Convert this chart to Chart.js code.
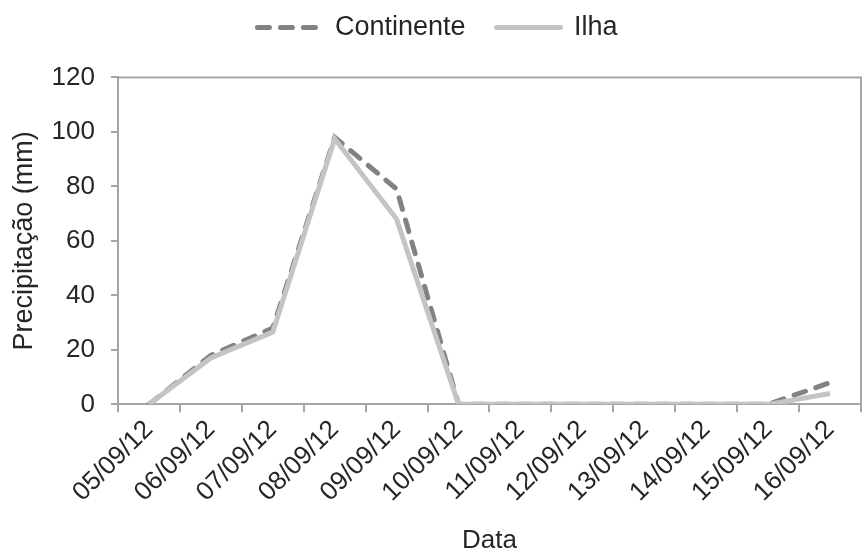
<!DOCTYPE html>
<html>
<head>
<meta charset="utf-8">
<script src="https://cdn.jsdelivr.net/npm/chart.js@4"></script>
<style>
  html, body { margin: 0; padding: 0; background: #fff; }
  #wrap { width: 864px; height: 554px; }
</style>
</head>
<body>
<div id="wrap"><canvas id="rainChart"></canvas></div>
<script>
// Dates (categories) and daily rainfall for each series
const dates = ['05/09/12', '06/09/12', '07/09/12', '08/09/12', '09/09/12', '10/09/12',
               '11/09/12', '12/09/12', '13/09/12', '14/09/12', '15/09/12', '16/09/12'];
const continente = [0, 18, 28, 98, 79, 0, 0, 0, 0, 0, 0, 8];
const ilha = [0, 17, 26.5, 97.5, 68, 0, 0, 0, 0, 0, 0, 4];
const yTicks = [0, 20, 40, 60, 80, 100, 120];

const AXIS_GRAY = '#a6a6a6';
const TEXT = '#262626';
Chart.defaults.font.family = '"Liberation Sans", Arial, sans-serif';

// Draw the top and right edges of the plot box
const boxPlugin = {
    id: 'plotBox',
    afterDraw(chart) {
        const a = chart.chartArea;
        const ctx = chart.ctx;
        ctx.save();
        ctx.strokeStyle = AXIS_GRAY;
        ctx.lineWidth = 2;
        ctx.beginPath();
        ctx.moveTo(a.left, a.top);
        ctx.lineTo(a.right, a.top);
        ctx.lineTo(a.right, a.bottom);
        ctx.stroke();
        ctx.restore();
    }
};

new Chart('rainChart', {
    type: 'line',
    data: {
        labels: dates,
        datasets: [{
            label: 'Continente',
            data: continente,
            borderColor: '#828282',
            backgroundColor: '#828282',
            borderWidth: 5,
            borderDash: [12, 11],
            borderCapStyle: 'round',
            pointRadius: 0,
            tension: 0,
            order: 1
        }, {
            label: 'Ilha',
            data: ilha,
            borderColor: '#c4c4c4',
            backgroundColor: '#c4c4c4',
            borderWidth: 5,
            pointRadius: 0,
            tension: 0,
            order: 0
        }]
    },
    options: {
        responsive: true,
        maintainAspectRatio: false,
        animation: false,
        layout: {padding: {left: 14, right: 3, top: -17, bottom: 0}},
        plugins: {
            legend: {
                position: 'top',
                labels: {
                    usePointStyle: true,
                    pointStyle: 'line',
                    pointStyleWidth: 64,
                    boxWidth: 64,
                    padding: 31,
                    color: TEXT,
                    font: {size: 27},
                    sort: (a, b) => a.datasetIndex - b.datasetIndex,
                    // point-style legend items lose the dash, so put it back
                    generateLabels: chart => {
                        const items = Chart.defaults.plugins.legend.labels.generateLabels(chart);
                        items.forEach(item => {
                            const ds = chart.data.datasets[item.datasetIndex];
                            item.lineDash = ds.borderDash || [];
                            item.lineWidth = 5;
                            item.lineCap = 'round';
                            item.strokeStyle = ds.borderColor;
                        });
                        return items;
                    }
                }
            },
            // empty subtitle used as a spacer between legend and plot
            subtitle: {display: true, text: '', weight: 500, padding: 0, font: {size: 22}},
            tooltip: {enabled: false}
        },
        scales: {
            x: {
                offset: true,
                grid: {offset: true, drawOnChartArea: false, color: AXIS_GRAY, lineWidth: 2, tickLength: 8},
                border: {color: AXIS_GRAY, width: 2},
                ticks: {autoSkip: false, maxRotation: 45, minRotation: 45, color: TEXT, font: {size: 26}, padding: 2},
                title: {display: true, text: 'Data', color: TEXT, font: {size: 26, lineHeight: 1}, padding: {top: 18, bottom: 0}}
            },
            y: {
                min: 0,
                max: 120,
                afterBuildTicks: axis => { axis.ticks = yTicks.map(v => ({value: v})); },
                grid: {drawOnChartArea: false, color: AXIS_GRAY, lineWidth: 2, tickLength: 7},
                border: {color: AXIS_GRAY, width: 2},
                ticks: {color: TEXT, font: {size: 26}, padding: 16},
                title: {display: true, text: 'Precipitação (mm)', color: TEXT, font: {size: 27, lineHeight: 0.8}, padding: 0}
            }
        }
    },
    plugins: [boxPlugin]
});
</script>
</body>
</html>
